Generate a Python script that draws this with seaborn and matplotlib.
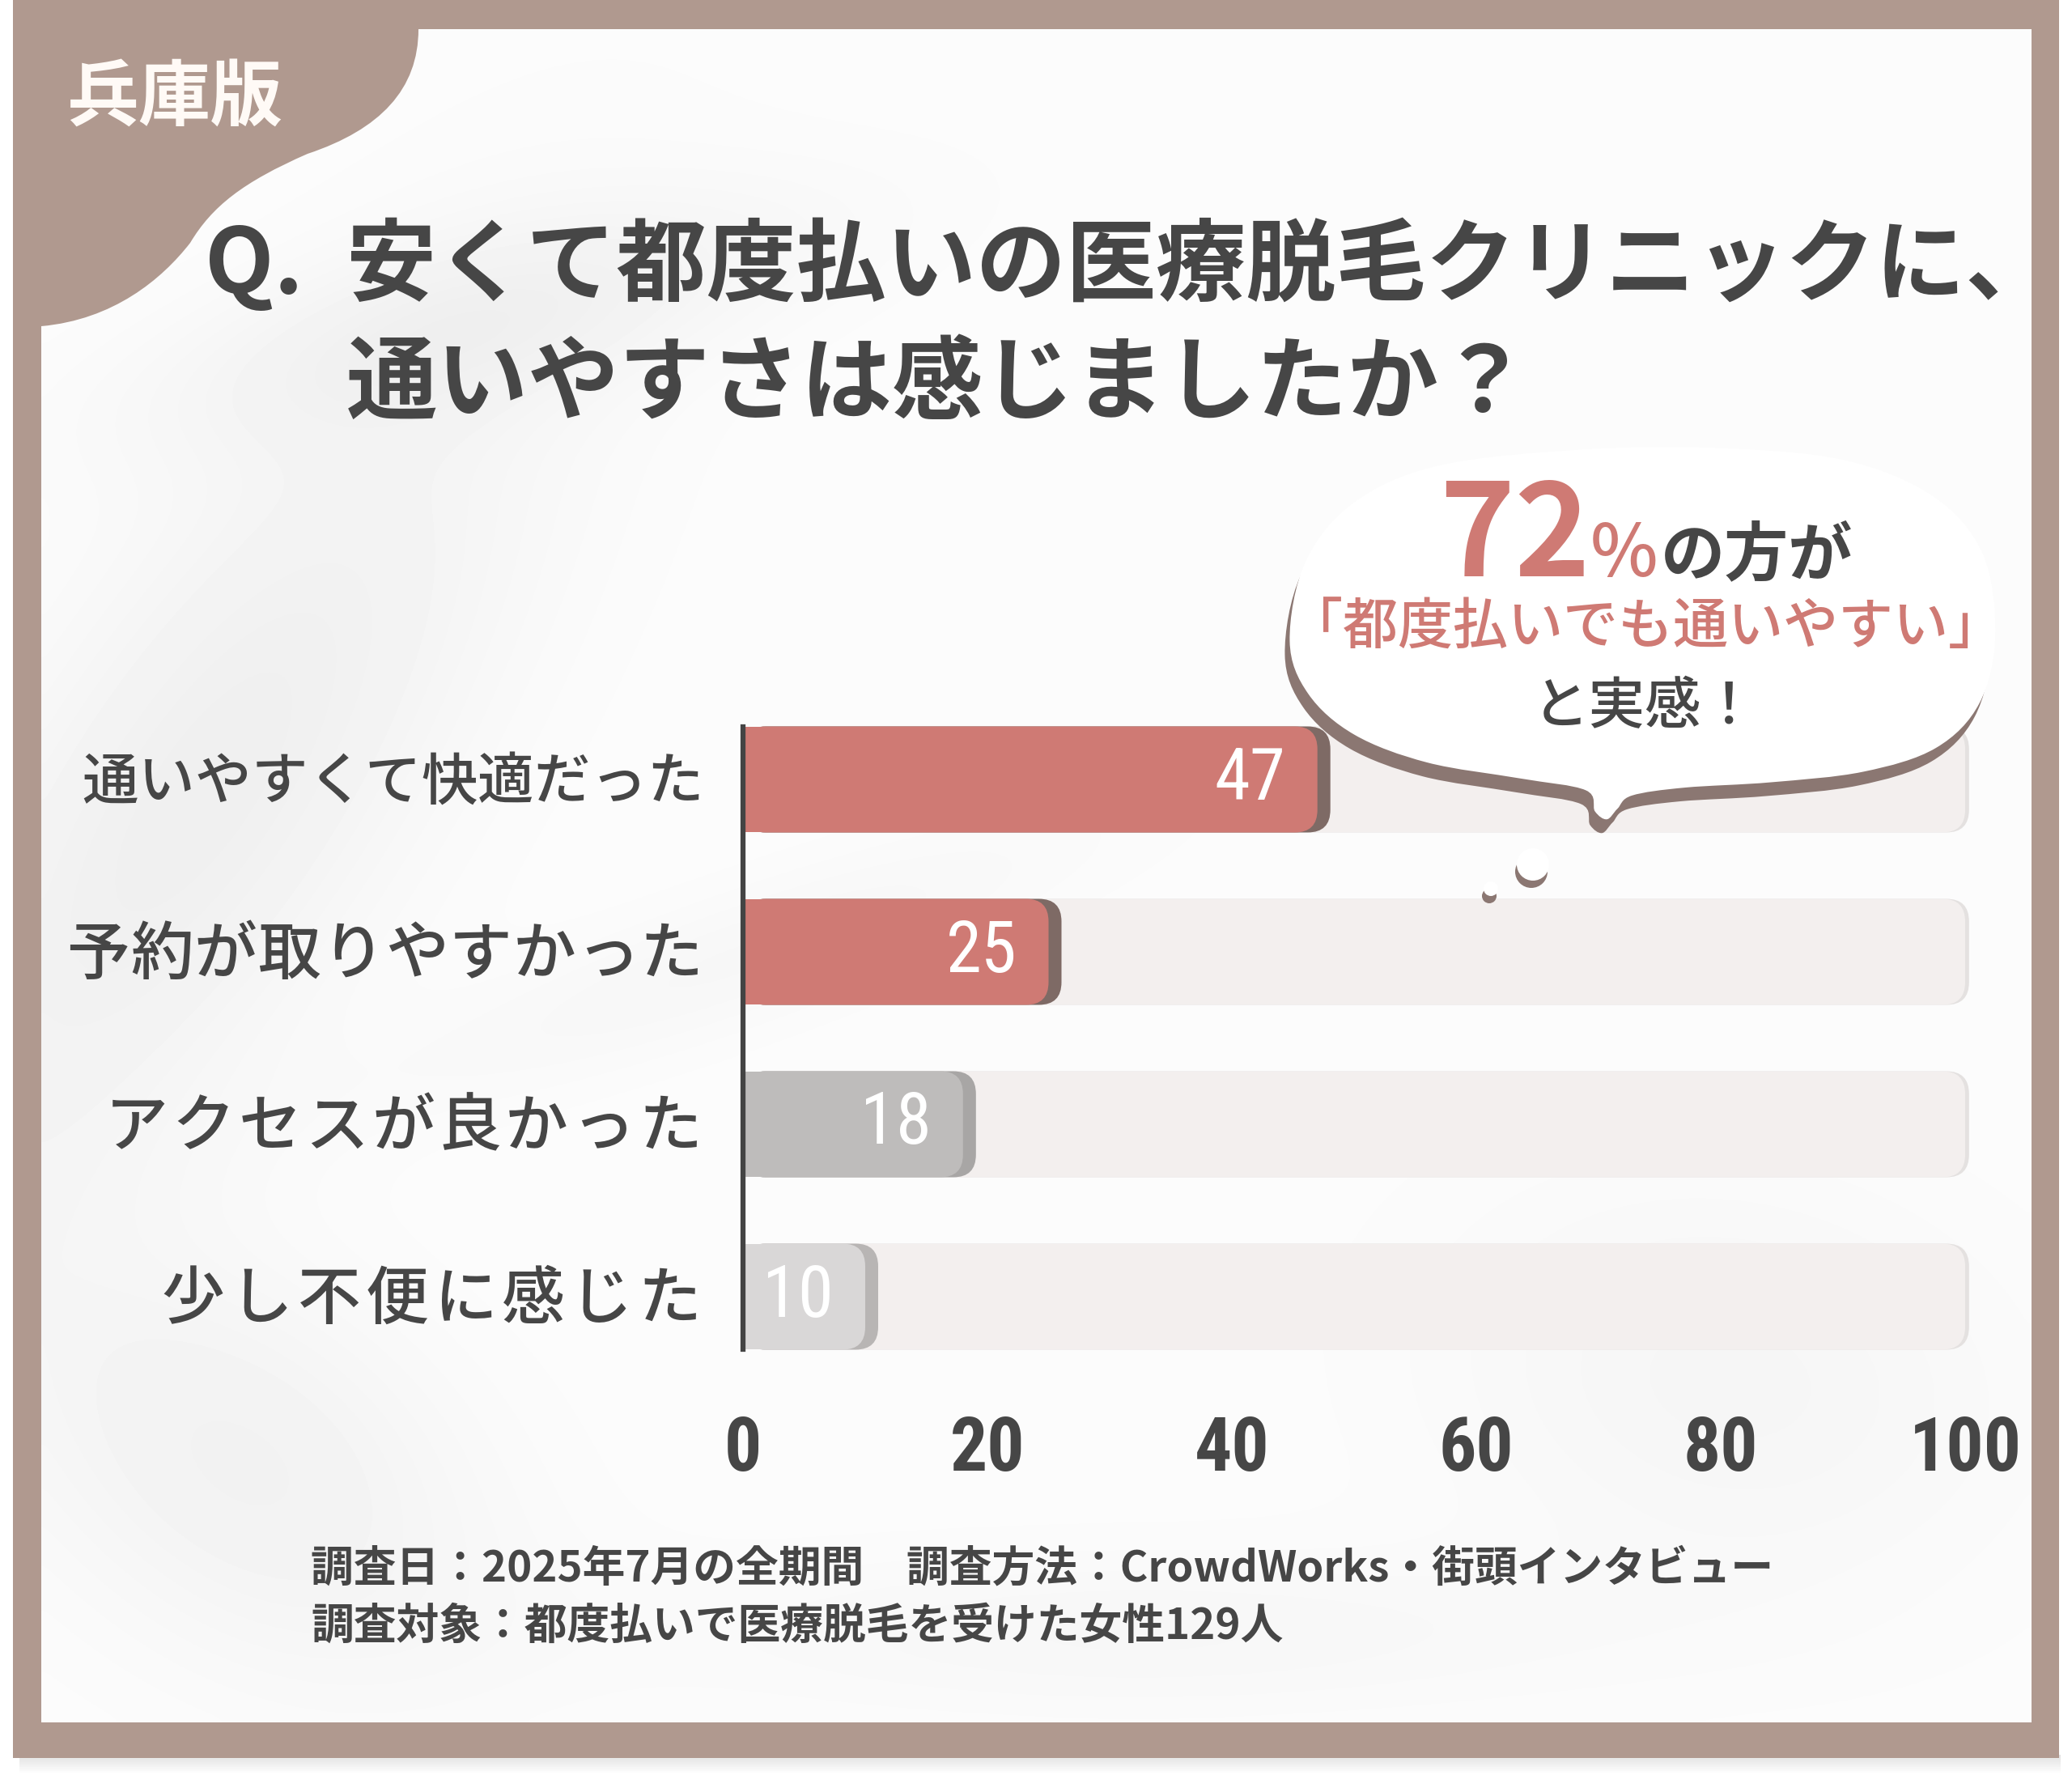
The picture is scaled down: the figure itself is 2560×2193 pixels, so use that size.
import numpy as np
import matplotlib
matplotlib.use("Agg")
import matplotlib.pyplot as plt
import matplotlib.transforms as mtransforms
from matplotlib import font_manager as fm
import seaborn as sns
import pandas as pd
from matplotlib.patches import FancyBboxPatch, Rectangle, PathPatch, Circle
from matplotlib.path import Path

# data
categories = ["通いやすくて快適だった", "予約が取りやすかった", "アクセスが良かった", "少し不便に感じた"]
values = [47, 25, 18, 10]
bar_colors = ["#cf7a74", "#cf7a74", "#bebcbb", "#d9d7d7"]
side_colors = ["#7e6a65", "#7e6a65", "#a8a6a5", "#b8b5b4"]
xticks = [0, 20, 40, 60, 80, 100]
track_max = 100

badge = "兵庫版"
title_q = "Q."
title_lines = ["安くて都度払いの医療脱毛クリニックに、", "通いやすさは感じましたか？"]
bubble_pct = "72"
bubble_tail = "の方が"
bubble_quote = "「都度払いでも通いやすい」"
bubble_end = "と実感！"
notes = ["調査日：2025年7月の全期間　調査方法：CrowdWorks・街頭インタビュー",
         "調査対象：都度払いで医療脱毛を受けた女性129人"]

W, H = 2560, 2193
BROWN = "#b0998f"
DARK = "#464646"
SALMON = "#cf7a74"
TRACK = "#f3efee"
JP = ["Noto Sans CJK JP", "DejaVu Sans"]

sns.set_theme(style="white")
plt.rcParams["font.family"] = JP


def pick_condensed(target):
    # look for any installed condensed / narrow face, closest in weight
    prefs = ["robotocondensed", "notosans-condensed", "liberationsansnarrow", "dejavusanscondensed"]
    best, best_key = None, None
    for f in fm.fontManager.ttflist:
        fn = f.fname.lower().replace(" ", "")
        nm = f.name.lower()
        if not ("condensed" in fn or "narrow" in fn or "condensed" in nm or "narrow" in nm):
            continue
        if any(k in fn for k in ["extra", "ultra", "semi", "italic", "oblique"]):
            continue
        w = f.weight if isinstance(f.weight, int) else fm.weight_dict.get(f.weight, 400)
        rank = next((i for i, p in enumerate(prefs) if p in fn), len(prefs))
        key = (rank, abs(w - target))
        if best_key is None or key < best_key:
            best, best_key = f, key
    if best is None:
        return None
    return fm.FontProperties(fname=best.fname)


cond_reg = pick_condensed(400)
cond_bold = pick_condensed(700)
if cond_reg is None:
    cond_reg = fm.FontProperties(family="DejaVu Sans")
    cond_bold = fm.FontProperties(family="DejaVu Sans", weight="bold")
    num_scale = 0.8
else:
    num_scale = 1.0

fig = plt.figure(figsize=(W / 100, H / 100), dpi=100)
fig.patch.set_facecolor("white")

# ---------- background layer ----------
bg = fig.add_axes([0, 0, 1, 1], zorder=0)
bg.set_xlim(0, W); bg.set_ylim(H, 0); bg.axis("off")

for k in range(10):
    bg.add_patch(Rectangle((24, 2168 + k * 2.2), 2522, 2.2, fc="#9a9a9a",
                           alpha=0.28 * (1 - k / 10), lw=0))
bg.add_patch(Rectangle((16, 0), 2528, 2172, fc=BROWN, lw=0))

# soft shading inside the card
yy, xx = np.mgrid[0:1:220j, 0:1:250j]
tex = np.full_like(xx, 0.988)
streaks = [(0.08, 0.45, 0.10, 0.30, 0.5, 0.05), (0.22, 0.17, 0.18, 0.05, -0.3, 0.035),
           (0.10, 0.85, 0.15, 0.10, 0.8, 0.04), (0.85, 0.80, 0.15, 0.12, 0.3, 0.025),
           (0.55, 0.95, 0.25, 0.05, 0.0, 0.02), (0.35, 0.55, 0.20, 0.04, -0.4, 0.02)]
for cx, cy, sx, sy, ang, amp in streaks:
    u = (xx - cx) * np.cos(ang) + (yy - cy) * np.sin(ang)
    v = -(xx - cx) * np.sin(ang) + (yy - cy) * np.cos(ang)
    tex -= amp * np.exp(-(u / sx) ** 2 - (v / sy) ** 2)
bg.imshow(tex, cmap="gray", vmin=0, vmax=1, extent=(51, 2510, 2128, 36),
          aspect="auto", interpolation="bicubic", zorder=1)

blob = Path([(51, 36), (517, 36), (517, 110), (470, 160), (380, 190),
             (300, 225), (262, 255), (235, 300), (200, 345), (140, 395), (51, 403), (51, 36)],
            [Path.MOVETO, Path.LINETO, Path.CURVE4, Path.CURVE4, Path.CURVE4,
             Path.CURVE4, Path.CURVE4, Path.CURVE4, Path.CURVE4, Path.CURVE4, Path.CURVE4,
             Path.CLOSEPOLY])
bg.add_patch(PathPatch(blob, fc=BROWN, lw=0, zorder=2))

bg.text(82, 122, badge, color="#fffaf6", fontsize=64, fontweight="bold",
        ha="left", va="center", zorder=3)
bg.text(253, 330, title_q, color=DARK, fontsize=80, fontweight="bold",
        ha="left", va="center", zorder=3)
bg.text(428, 330, title_lines[0], color=DARK, fontsize=80, fontweight="bold",
        ha="left", va="center", zorder=3)
bg.text(428, 476, title_lines[1], color=DARK, fontsize=81, fontweight="bold",
        ha="left", va="center", zorder=3)
bg.text(384, 1938, notes[0], color=DARK, fontsize=38, fontweight="bold",
        ha="left", va="center", zorder=3)
bg.text(384, 2009, notes[1], color=DARK, fontsize=38, fontweight="bold",
        ha="left", va="center", zorder=3)

# ---------- bar chart ----------
x0_px, x1_px = 918, 2428
top_px, bot_px = 963 - 106.5, 1602 + 106.5
ax = fig.add_axes([x0_px / W, 1 - bot_px / H, (x1_px - x0_px) / W, (bot_px - top_px) / H], zorder=1)
ax.patch.set_alpha(0)

df = pd.DataFrame({"category": categories, "value": values, "track": [track_max] * 4})
bw = 0.615
sns.barplot(data=df, x="track", y="category", orient="h", color=TRACK, width=bw, ax=ax)
sns.barplot(data=df, x="value", y="category", hue="category", palette=bar_colors,
            orient="h", width=bw, legend=False, ax=ax)
ax.set_xlim(0, track_max)
ax.set_ylim(len(categories) - 0.5, -0.5)

px_x = (x1_px - x0_px) / track_max
px_y = (bot_px - top_px) / len(categories)
asp = px_x / px_y
rad = 28 / px_x
side = 16 / px_x

patches = list(ax.patches)
for i, p in enumerate(patches):
    x, y, w, h = p.get_x(), p.get_y(), p.get_width(), p.get_height()
    p.set_visible(False)
    style = f"round,pad=0,rounding_size={rad}"
    if i < len(categories):
        ax.add_patch(FancyBboxPatch((x, y), w + side * 0.3, h, boxstyle=style,
                                    mutation_aspect=asp, fc="#e4e1e0", lw=0, zorder=1, clip_on=False))
        ax.add_patch(FancyBboxPatch((x, y), w, h, boxstyle=style,
                                    mutation_aspect=asp, fc=TRACK, lw=0, zorder=1.1, clip_on=False))
    else:
        j = int(round(y + h / 2))
        ax.add_patch(FancyBboxPatch((x, y), w + side, h, boxstyle=style,
                                    mutation_aspect=asp, fc=side_colors[j], lw=0, zorder=2, clip_on=False))
        ax.add_patch(FancyBboxPatch((x, y), w, h, boxstyle=style,
                                    mutation_aspect=asp, fc=bar_colors[j], lw=0, zorder=2.1, clip_on=False))
        ax.add_patch(Rectangle((x, y), min(w, 2 * rad), h, fc=bar_colors[j], lw=0, zorder=2.2))

for j, v in enumerate(values):
    ax.text(v - 2.6, j, str(v), ha="right", va="center", color="white",
            fontproperties=cond_reg, fontsize=64 * num_scale, zorder=3)

for s in ["top", "right", "bottom"]:
    ax.spines[s].set_visible(False)
ax.spines["left"].set_color("#444444")
ax.spines["left"].set_linewidth(4.5)
ax.spines["left"].set_bounds(-bw / 2, len(categories) - 1 + bw / 2)
ax.spines["left"].set_zorder(4)
ax.set(xlabel="", ylabel="")
ax.set_xticks(xticks)
ax.set_xticklabels([str(t) for t in xticks], fontproperties=cond_bold,
                   fontsize=66 * num_scale, color=DARK)
ax.set_yticks(range(len(categories)))
ax.set_yticklabels([""] * len(categories))
ax.tick_params(axis="x", length=0, pad=28)
ax.tick_params(axis="y", length=0)
ax.grid(False)

# category labels, letter-spaced like the original, right edge at the axis gap
label_right = 869
label_pitch = [69.8, 78.7, 82.4, 84.1]
label_size = [50, 56, 56, 56]
lab_tr = mtransforms.blended_transform_factory(bg.transData, ax.transData)
for j, (cat, pitch, fs) in enumerate(zip(categories, label_pitch, label_size)):
    n = len(cat)
    for k, ch in enumerate(cat):
        cx = label_right - pitch * (n - k - 0.5)
        ax.text(cx, j + 0.02, ch, transform=lab_tr, ha="center", va="center",
                fontsize=fs, color=DARK, fontweight="medium", clip_on=False)

# ---------- speech bubble ----------
top = fig.add_axes([0, 0, 1, 1], zorder=3)
top.set_xlim(0, W); top.set_ylim(H, 0); top.axis("off"); top.patch.set_alpha(0)


def smooth_closed(pts):
    pts = np.asarray(pts, float)
    n = len(pts)
    verts = [pts[0]]
    codes = [Path.MOVETO]
    for i in range(n):
        p0, p1, p2, p3 = pts[i - 1], pts[i], pts[(i + 1) % n], pts[(i + 2) % n]
        verts += [p1 + (p2 - p0) / 6, p2 - (p3 - p1) / 6, p2]
        codes += [Path.CURVE4] * 3
    return Path(verts, codes)


s = 2560 / 1568
outline = [(976, 485), (988, 425), (1025, 380), (1090, 352), (1200, 340), (1300, 339),
           (1395, 348), (1462, 375), (1500, 418), (1510, 480), (1498, 532), (1465, 566),
           (1410, 584), (1340, 592), (1275, 596), (1235, 602), (1224, 612), (1216, 620),
           (1207, 614), (1200, 598), (1150, 589), (1080, 577), (1025, 556), (990, 525)]
outline = [(px * s, py * s) for px, py in outline]
shadow = [(px - 6, py + 17) for px, py in outline]
top.add_patch(PathPatch(smooth_closed(shadow), fc="#8b7772", lw=0, zorder=1))
top.add_patch(PathPatch(smooth_closed(outline), fc="white", lw=0, zorder=2))

for cx, cy, r in [(1894, 1068, 20), (1842, 1098, 9)]:
    top.add_patch(Circle((cx - 2, cy + 9), r, fc="#8b7772", lw=0, zorder=1))
    top.add_patch(Circle((cx, cy), r, fc="white", lw=0, zorder=2))

top.text(1778, 712, bubble_pct, color=SALMON, fontsize=114, fontweight="bold",
         ha="left", va="baseline", zorder=3)
top.text(1965, 712, "%", color=SALMON, fontsize=64, fontweight="medium",
         ha="left", va="baseline", zorder=3)
top.text(2052, 710, bubble_tail, color=DARK, fontsize=57, fontweight="bold",
         ha="left", va="baseline", zorder=3)
top.text(2033, 776, bubble_quote, color=SALMON, fontsize=49, fontweight="medium",
         ha="center", va="center", zorder=3)
top.text(2033, 874, bubble_end, color=DARK, fontsize=50, fontweight="medium",
         ha="center", va="center", zorder=3)

fig.savefig("out.png", dpi=100)
